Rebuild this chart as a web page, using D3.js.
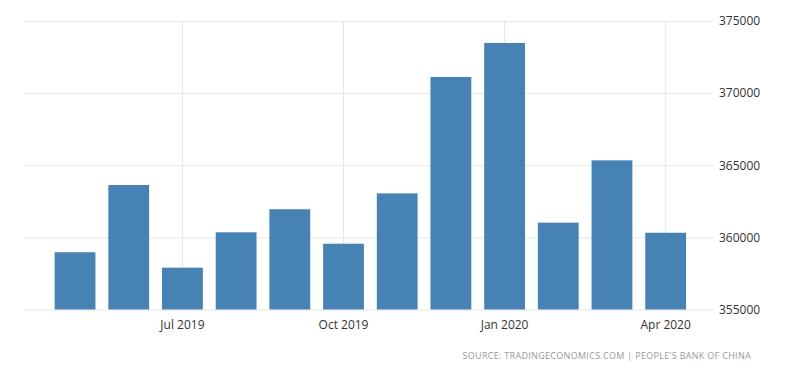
<!DOCTYPE html>
<html>
<head>
<meta charset="utf-8">
<script src="https://cdn.jsdelivr.net/npm/d3@7"></script>
<style>
  body { margin: 0; background: #fff; }
  svg text { font-family: "Open Sans", "Noto Sans", sans-serif; }
</style>
</head>
<body>
<div id="chart"></div>
<script>
var months = ["2019-05","2019-06","2019-07","2019-08","2019-09","2019-10",
              "2019-11","2019-12","2020-01","2020-02","2020-03","2020-04"];
var values = [358970, 363630, 357900, 360350, 361950, 359560,
              363050, 371120, 373475, 361020, 365340, 360320];
var yTicks = [355000, 360000, 365000, 370000, 375000];
var xTicks = ["2019-07","2019-10","2020-01","2020-04"];

var width = 800, height = 373;

var svg = d3.select('#chart').append('svg')
    .attr('width', width)
    .attr('height', height);

var x = d3.scaleBand()
    .domain(months)
    .range([48.2, 692.5])
    .paddingInner(0.24)
    .paddingOuter(0.12);

var y = d3.scaleLinear()
    .domain([355000, 375000])
    .range([309.5, 21]);

var fmt = d3.timeFormat('%b %Y'),
    parse = d3.timeParse('%Y-%m');

// horizontal grid + right axis labels
var yAxis = d3.axisRight(y)
    .tickValues(yTicks)
    .tickSize(713 - 24)
    .tickFormat(d3.format('d'));

svg.append('g')
    .attr('class', 'y axis')
    .attr('transform', 'translate(24,0)')
    .call(yAxis)
    .call(function(g){
      g.select('.domain').remove();
      g.selectAll('.tick line').attr('stroke', '#e6e6e6');
      g.selectAll('.tick text')
        .attr('x', 695)
        .attr('fill', '#333')
        .style('font-size', '12px');
    });

// vertical grid at quarter months
var xAxis = d3.axisBottom(x)
    .tickValues(xTicks)
    .tickSize(-(309.5 - 21))
    .tickFormat(function(d){ return fmt(parse(d)); });

svg.append('g')
    .attr('class', 'x axis')
    .attr('transform', 'translate(0,309.5)')
    .call(xAxis)
    .call(function(g){
      g.select('.domain').remove();
      g.selectAll('.tick line').attr('stroke', '#e6e6e6');
      g.selectAll('.tick text')
        .attr('y', 11)
        .attr('dy', '0.71em')
        .attr('fill', '#333')
        .style('font-size', '12px');
    });

svg.selectAll('.bar')
    .data(months)
  .enter().append('rect')
    .attr('class', 'bar')
    .attr('x', function(d){ return x(d); })
    .attr('width', x.bandwidth())
    .attr('y', function(d, i){ return y(values[i]); })
    .attr('height', function(d, i){ return y(355000) - y(values[i]); })
    .attr('fill', '#4682b4');

svg.append('text')
    .attr('x', 751)
    .attr('y', 359)
    .attr('text-anchor', 'end')
    .attr('fill', '#999')
    .style('font-size', '9px')
    .style('letter-spacing', '0.3px')
    .text("SOURCE: TRADINGECONOMICS.COM  |  PEOPLE'S BANK OF CHINA");
</script>
</body>
</html>
